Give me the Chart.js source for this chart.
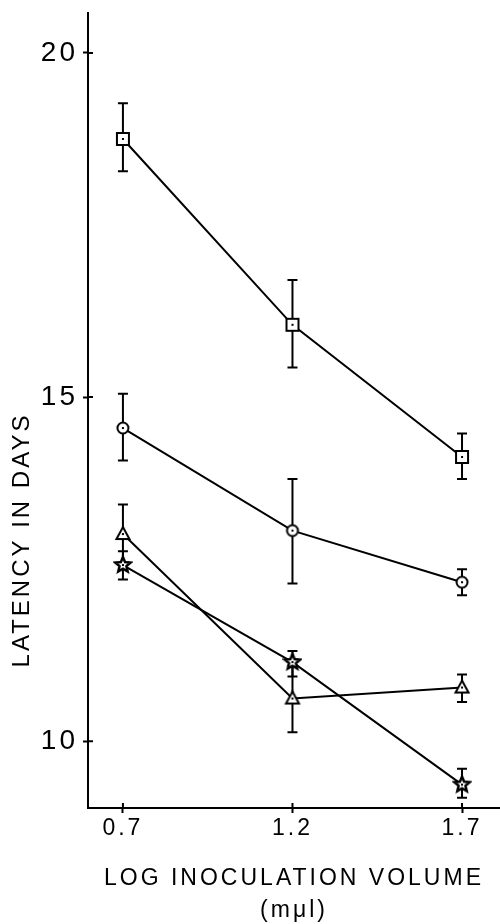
<!DOCTYPE html>
<html><head><meta charset="utf-8">
<script src="https://cdn.jsdelivr.net/npm/chart.js@4/dist/chart.umd.min.js"></script>
<style>html,body{margin:0;padding:0;background:#fff;}#wrap{width:500px;height:924px;}</style>
</head><body><div id="wrap"><canvas id="c" width="500" height="924"></canvas></div>
<script>
// ---- data ----
const xValues = [0.7, 1.2, 1.7];
const xTickLabels = ['0.7', '1.2', '1.7'];
const yTickValues = [10, 15, 20];

const squareMean = [18.75, 16.05, 14.13];
const squareLow  = [18.28, 15.43, 13.81];
const squareHigh = [19.27, 16.70, 14.47];

const circleMean = [14.55, 13.06, 12.31];
const circleLow  = [14.08, 12.29, 12.12];
const circleHigh = [15.05, 13.81, 12.50];

const triangleMean = [13.01, 10.62, 10.78];
const triangleLow  = [12.58, 10.13, 10.57];
const triangleHigh = [13.44, 11.10, 10.97];

const starMean = [12.56, 11.15, 9.37];
const starLow  = [12.35, 10.94, 9.18];
const starHigh = [12.76, 11.31, 9.60];

const xTitle = ['LOG INOCULATION VOLUME', '(mμl)'];
const yTitle = 'LATENCY IN DAYS';

// ---- marker images ----
function makeMarker(shape) {
  const s = 20, c = document.createElement('canvas');
  c.width = s; c.height = s;
  const g = c.getContext('2d');
  g.translate(s / 2, s / 2);
  g.lineWidth = 2; g.strokeStyle = '#000'; g.fillStyle = '#fff';
  g.beginPath();
  if (shape === 'square') {
    g.rect(-6, -6, 12, 12);
  } else if (shape === 'circle') {
    g.arc(0, 0, 5.5, 0, Math.PI * 2);
  } else if (shape === 'triangle') {
    g.moveTo(0, -7); g.lineTo(6.5, 5); g.lineTo(-6.5, 5); g.closePath();
  } else {
    g.lineWidth = 2.5;
    for (let k = 0; k < 10; k++) {
      const r = k % 2 === 0 ? 8 : 3.6;
      const a = -Math.PI / 2 + k * Math.PI / 5;
      const px = r * Math.cos(a), py = r * Math.sin(a);
      if (k === 0) g.moveTo(px, py); else g.lineTo(px, py);
    }
    g.closePath();
  }
  g.fill(); g.stroke();
  g.fillStyle = '#000';
  g.fillRect(-1, -1, 2, 2);
  return c;
}

const seriesDefs = [
  {mean: squareMean, low: squareLow, high: squareHigh, marker: makeMarker('square')},
  {mean: circleMean, low: circleLow, high: circleHigh, marker: makeMarker('circle')},
  {mean: triangleMean, low: triangleLow, high: triangleHigh, marker: makeMarker('triangle')},
  {mean: starMean, low: starLow, high: starHigh, marker: makeMarker('star')}
];

const FONT = "'Liberation Sans', Arial, sans-serif";

const errorBarPlugin = {
  id: 'errorBars',
  beforeDatasetsDraw(chart) {
    const {ctx, scales: {x, y}} = chart;
    ctx.save();
    ctx.strokeStyle = '#000';
    ctx.lineWidth = 2;
    seriesDefs.forEach(s => {
      xValues.forEach((xv, i) => {
        const px = x.getPixelForValue(xv);
        const top = y.getPixelForValue(s.high[i]);
        const bot = y.getPixelForValue(s.low[i]);
        ctx.beginPath();
        ctx.moveTo(px, top); ctx.lineTo(px, bot);
        ctx.moveTo(px - 5, top); ctx.lineTo(px + 5, top);
        ctx.moveTo(px - 5, bot); ctx.lineTo(px + 5, bot);
        ctx.stroke();
      });
    });
    ctx.restore();
  }
};

const innerTickPlugin = {
  id: 'innerTicks',
  afterDraw(chart) {
    const {ctx, chartArea, scales: {x, y}} = chart;
    ctx.save();
    ctx.strokeStyle = '#000';
    ctx.lineWidth = 2;
    ctx.beginPath();
    yTickValues.forEach(v => {
      const py = y.getPixelForValue(v);
      ctx.moveTo(chartArea.left, py); ctx.lineTo(chartArea.left + 5, py);
    });
    xValues.forEach(v => {
      const px = x.getPixelForValue(v);
      ctx.moveTo(px, chartArea.bottom); ctx.lineTo(px, chartArea.bottom - 5);
    });
    ctx.stroke();
    ctx.restore();
  }
};

// y-axis title, placed lower than the scale's centre as in the reference
const yTitlePlugin = {
  id: 'yTitle',
  afterDraw(chart) {
    const {ctx} = chart;
    ctx.save();
    ctx.letterSpacing = '3px';
    ctx.fillStyle = '#000';
    ctx.font = "24px " + FONT;
    ctx.textAlign = 'center';
    ctx.textBaseline = 'middle';
    ctx.translate(22, 540);
    ctx.rotate(-Math.PI / 2);
    ctx.fillText(yTitle, 0, 0);
    ctx.restore();
  }
};

const spacingPlugin = {
  id: 'letterSpacing',
  beforeDraw(chart) { chart.ctx.letterSpacing = '3px'; },
  afterDraw(chart) { chart.ctx.letterSpacing = '0px'; }
};

function noPad(s) { s.paddingTop = 0; s.paddingBottom = 0; s.paddingLeft = 0; s.paddingRight = 0; }

new Chart(document.getElementById('c'), {
  type: 'line',
  data: {
    datasets: seriesDefs.map(s => ({
      data: xValues.map((xv, i) => ({x: xv, y: s.mean[i]})),
      borderColor: '#000',
      borderWidth: 2,
      pointStyle: s.marker,
      pointRadius: 6,
      tension: 0,
      fill: false,
      clip: false
    }))
  },
  options: {
    responsive: false,
    animation: false,
    devicePixelRatio: 1,
    layout: {autoPadding: false, padding: {top: 13, right: 0, left: 0, bottom: 0}},
    plugins: {legend: {display: false}, tooltip: {enabled: false}},
    scales: {
      x: {
        type: 'linear',
        min: 0.597, max: 1.812,
        afterBuildTicks: s => { s.ticks = xValues.map(v => ({value: v})); },
        afterFit: s => { s.height = 116; noPad(s); },
        ticks: {
          callback: (v, i) => xTickLabels[i],
          color: '#000', font: {family: FONT, size: 23}, padding: 2,
          maxRotation: 0, autoSkip: false
        },
        grid: {display: true, drawOnChartArea: false, drawTicks: true, tickLength: 5, tickWidth: 2, tickColor: '#000'},
        border: {display: true, color: '#000', width: 2},
        title: {display: true, text: xTitle, color: '#000', font: {family: FONT, size: 23, lineHeight: 1.4}, padding: {top: 0, bottom: -3}}
      },
      y: {
        type: 'linear',
        min: 9.03, max: 20.58,
        afterBuildTicks: s => { s.ticks = yTickValues.map(v => ({value: v})); },
        afterFit: s => { s.width = 88; noPad(s); },
        ticks: {color: '#000', font: {family: FONT, size: 28}, padding: 5},
        grid: {display: true, drawOnChartArea: false, drawTicks: true, tickLength: 5, tickWidth: 2, tickColor: '#000'},
        border: {display: true, color: '#000', width: 2},
        title: {display: false}
      }
    }
  },
  plugins: [spacingPlugin, errorBarPlugin, innerTickPlugin, yTitlePlugin]
});
</script>
</body></html>
